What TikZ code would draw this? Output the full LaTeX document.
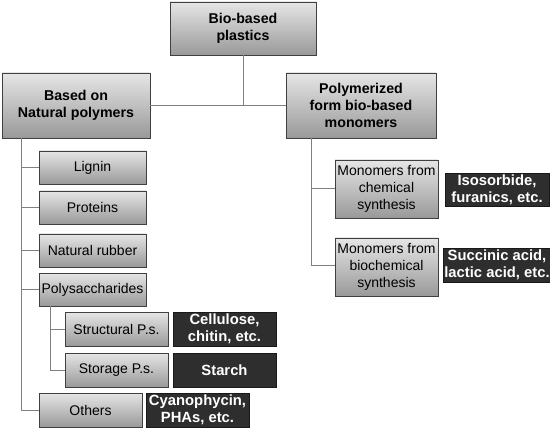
\documentclass[tikz,border=0pt]{standalone}
\usepackage{fontspec}
\setmainfont{Liberation Sans}
\begin{document}
\begin{tikzpicture}[x=1pt,y=-1pt,
  base/.style={rectangle, draw=black!75, line width=0.9pt, align=center, inner sep=1pt,
    font=\fontsize{14}{17}\selectfont},
  graybox/.style={base, top color=black!10, bottom color=black!40},
  mainbox/.style={graybox, font=\fontsize{14.2}{17}\selectfont\bfseries},
  darkbox/.style={base, fill=black!82, draw=black!90, text=white, font=\fontsize{14.8}{17}\selectfont\bfseries},
  conn/.style={draw=black!50, line width=1pt}]
\useasboundingbox (0,0) rectangle (550,428);
% main boxes
\node[mainbox, minimum width=146pt, minimum height=53pt] (top) at (243,28.5) {Bio-based\\plastics};
\node[mainbox, minimum width=148pt, minimum height=65pt] (L) at (76,105.5) {Based on\\Natural polymers};
\node[mainbox, minimum width=150pt, minimum height=65pt] (R) at (361,105.5) {Polymerized\\form bio-based\\monomers};
% left children
\node[graybox, minimum width=107pt, minimum height=33pt] (lig) at (92.5,167.5) {Lignin};
\node[graybox, minimum width=107pt, minimum height=33pt] (pro) at (92.5,207.5) {Proteins};
\node[graybox, minimum width=107pt, minimum height=33pt] (rub) at (92.5,250.5) {Natural rubber};
\node[graybox, minimum width=107pt, minimum height=33pt] (pol) at (92.5,289.5) {Polysaccharides};
\node[graybox, minimum width=103pt, minimum height=34pt] (str) at (116.5,329) {Structural P.s.};
\node[darkbox, minimum width=103pt, minimum height=34pt] (cel) at (224.5,329) {Cellulose,\\chitin, etc.};
\node[graybox, minimum width=103pt, minimum height=34pt] (sto) at (116.5,370) {Storage P.s.};
\node[darkbox, minimum width=103pt, minimum height=34pt] (sta) at (224.5,370) {Starch};
\node[graybox, minimum width=103pt, minimum height=34pt] (oth) at (90.5,410) {Others};
\node[darkbox, minimum width=103pt, minimum height=34pt] (cya) at (197.5,410) {Cyanophycin,\\PHAs, etc.};
% right children
\node[graybox, minimum width=103pt, minimum height=58pt] (che) at (386.5,189) {Monomers from\\chemical\\synthesis};
\node[darkbox, minimum width=104pt, minimum height=33pt] (iso) at (497,189.5) {Isosorbide,\\furanics, etc.};
\node[graybox, minimum width=103pt, minimum height=58pt] (bio) at (386.5,267) {Monomers from\\biochemical\\synthesis};
\node[darkbox, minimum width=104pt, minimum height=34pt] (suc) at (497,265) {Succinic acid,\\lactic acid, etc.};
% trunk coordinates
\coordinate (lt) at (21,138);
\coordinate (rt) at (311,138);
\coordinate (pt) at (50,306);
% connectors
\draw[conn] (top.south) -- (top.south |- L.east);
\draw[conn] (L.east) -- (R.west);
\draw[conn] (lt) -- (lt |- oth.west);
\draw[conn] (lt |- lig.west) -- (lig.west);
\draw[conn] (lt |- pro.west) -- (pro.west);
\draw[conn] (lt |- rub.west) -- (rub.west);
\draw[conn] (lt |- pol.west) -- (pol.west);
\draw[conn] (lt |- oth.west) -- (oth.west);
\draw[conn] (pt) -- (pt |- sto.west);
\draw[conn] (pt |- str.west) -- (str.west);
\draw[conn] (pt |- sto.west) -- (sto.west);
\draw[conn] (rt) -- (rt |- suc.west);
\draw[conn] (rt |- che.west) -- (che.west);
\draw[conn] (rt |- suc.west) -- (bio.west |- suc.west);
\end{tikzpicture}
\end{document}
